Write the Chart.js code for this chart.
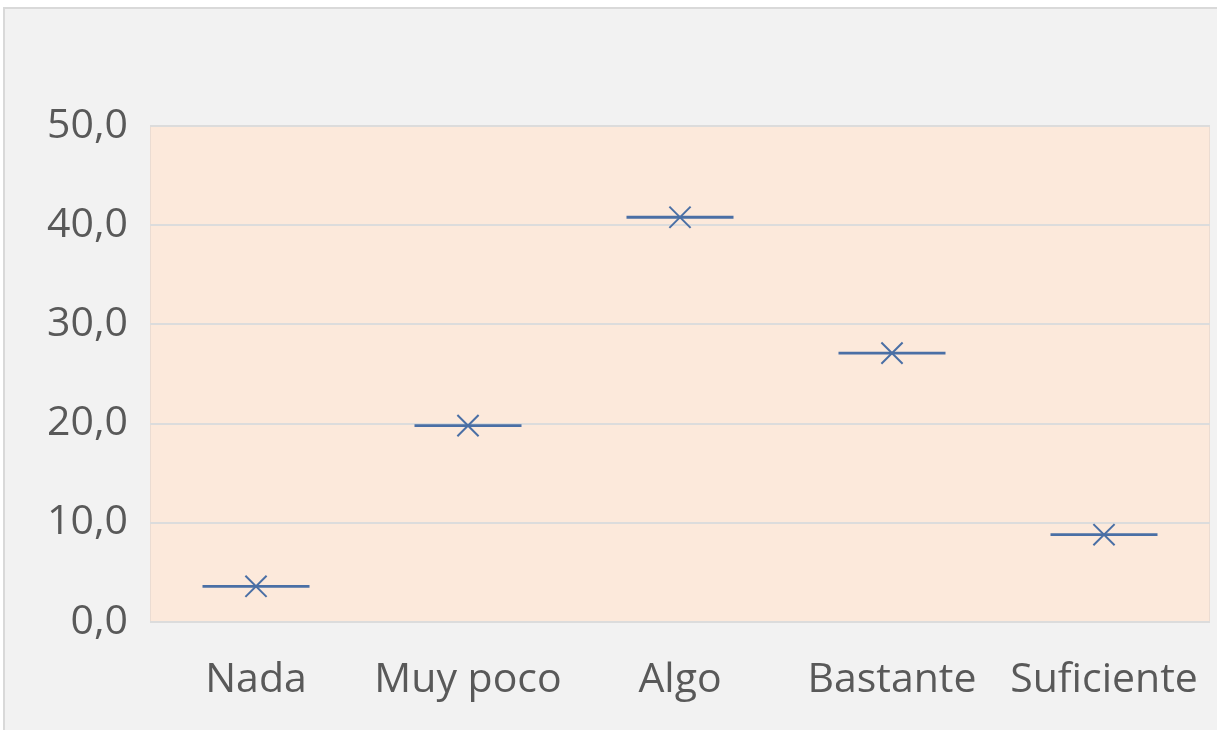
<!DOCTYPE html>
<html>
<head>
<meta charset="utf-8">
<script src="https://cdn.jsdelivr.net/npm/chart.js@4/dist/chart.umd.min.js"></script>
<style>
  html, body { margin: 0; padding: 0; background: #ffffff; }
  #wrap { width: 1217px; height: 730px; position: relative; }
</style>
</head>
<body>
<div id="wrap"><canvas id="grafico" width="1217" height="730"></canvas></div>
<script>
// Datos del grafico
const categorias = ["Nada", "Muy poco", "Algo", "Bastante", "Suficiente"];
const valores = [3.6, 19.8, 40.8, 27.1, 8.8];
const ticksY = [0, 10, 20, 30, 40, 50];

const azul = "#4a6fa5";
const textoGris = "#595959";

// Fondo del area de grafico y del grafico completo
const fondoPlugin = {
  id: "fondo",
  beforeDraw(chart) {
    const ctx = chart.ctx;
    const a = chart.chartArea;
    ctx.save();
    ctx.fillStyle = "#ffffff";
    ctx.fillRect(0, 0, chart.width, chart.height);
    ctx.fillStyle = "#f2f2f2";
    ctx.fillRect(3, 7, chart.width - 3, chart.height - 7);
    ctx.strokeStyle = "#d9d9d9";
    ctx.lineWidth = 2;
    ctx.beginPath();
    ctx.moveTo(4, chart.height);
    ctx.lineTo(4, 8);
    ctx.lineTo(chart.width, 8);
    ctx.stroke();
    ctx.fillStyle = "#fce9db";
    ctx.fillRect(a.left, a.top, a.right - a.left, a.bottom - a.top);
    ctx.strokeStyle = "#ebdcd2";
    ctx.lineWidth = 1;
    ctx.strokeRect(a.left + 0.5, a.top + 0.5, a.right - a.left - 1, a.bottom - a.top - 1);
    ctx.restore();
  }
};

const ctx = document.getElementById("grafico").getContext("2d");
new Chart(ctx, {
  type: "line",
  data: {
    labels: categorias,
    datasets: [
      {
        label: "segmento",
        data: valores,
        showLine: false,
        pointStyle: "line",
        pointRadius: 53.5,
        pointHoverRadius: 53.5,
        borderColor: azul,
        pointBorderWidth: 2.8,
        pointHoverBorderWidth: 2.8
      },
      {
        label: "marca",
        data: valores,
        showLine: false,
        pointStyle: "crossRot",
        pointRadius: 15,
        pointHoverRadius: 15,
        borderColor: azul,
        pointBorderWidth: 2,
        pointHoverBorderWidth: 2
      }
    ]
  },
  plugins: [fondoPlugin],
  options: {
    responsive: false,
    animation: false,
    events: [],
    layout: { autoPadding: false, padding: { left: 0, top: 126, right: 7, bottom: 0 } },
    plugins: {
      legend: { display: false },
      tooltip: { enabled: false }
    },
    scales: {
      x: {
        offset: true,
        grid: { display: false, drawTicks: false },
        border: { display: false },
        ticks: {
          color: textoGris,
          font: { family: "Open Sans", size: 41 },
          padding: 34,
          maxRotation: 0
        },
        afterFit: (scale) => {
          scale.height = 108;
          scale.paddingLeft = 0;
          scale.paddingRight = 0;
        }
      },
      y: {
        min: 0,
        max: 50,
        grid: { color: "#dcdcdc", lineWidth: 2, drawTicks: false },
        border: { display: false },
        afterBuildTicks: (scale) => {
          scale.ticks = ticksY.map((v) => ({ value: v }));
        },
        ticks: {
          color: textoGris,
          font: { family: "Open Sans", size: 41 },
          padding: 22,
          callback: (v) => v.toFixed(1).replace(".", ",")
        },
        afterFit: (scale) => {
          scale.width = 150;
          scale.paddingTop = 0;
          scale.paddingBottom = 0;
        }
      }
    }
  }
});
</script>
</body>
</html>
